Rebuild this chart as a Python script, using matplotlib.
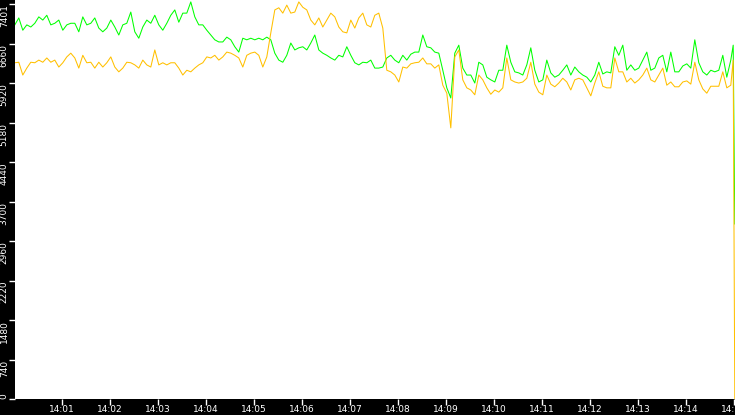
import numpy as np
import matplotlib
matplotlib.use("Agg")
import matplotlib.pyplot as plt
import matplotlib.dates as mdates
from datetime import datetime, timedelta

start = datetime(2024, 1, 1, 14, 0, 0)
# seconds after 14:00:00, one reading every 5 s plus the last drop
seconds = list(range(1, 900, 5)) + [899, 901]
times = [start + timedelta(seconds=s) for s in seconds]

green = [
    7010, 7140, 6910, 7010, 6970, 7040, 7160, 7100, 7190, 7010, 7040, 7100, 6910, 7010, 7040, 7040,
    6880, 7160, 7010, 7040, 7140, 6950, 6880, 6950, 7100, 6970, 6820, 7010, 7040, 7250, 6880,
    6760, 6970, 7100, 7040, 7190, 7010, 6910, 7040, 7190, 7290, 7060, 7230, 7230, 7440, 7160, 7010,
    7010, 6910, 6820, 6730, 6690, 6690, 6780, 6730, 6600, 6500, 6760, 6730, 6760, 6730, 6760,
    6730, 6780, 6730, 6480, 6350, 6310, 6440, 6670, 6540, 6580, 6600, 6540, 6670, 6820, 6540,
    6480, 6440, 6390, 6350, 6440, 6410, 6600, 6440, 6300, 6260, 6310, 6300, 6350, 6200, 6200,
    6220, 6390, 6440, 6350, 6300, 6440, 6350, 6460, 6500, 6500, 6820, 6600, 6580, 6500, 6480,
    6160, 5830, 5640, 6480, 6630, 6200, 6070, 6070, 5920, 6310, 6260, 6030, 5980, 5940, 6160,
    6160, 6630, 6310, 6130, 6110, 6070, 6260, 6580, 6160, 5940, 5980, 6350, 6110, 6030, 6070,
    6160, 6260, 6070, 6220, 6130, 6070, 6030, 5940, 6070, 6310, 6090, 6130, 6110, 6600, 6440,
    6630, 6160, 6260, 6160, 6200, 6350, 6500, 6160, 6200, 6390, 6440, 6130, 6500, 6130, 6130,
    6240, 6280, 6200, 6730, 6300, 6130, 6070, 6160, 6130, 6160, 6440, 6030, 6350,
    6630, 3280,
]

yellow = [
    6300, 6310, 6070, 6200, 6310, 6300, 6350, 6310, 6390, 6310, 6350, 6220, 6300, 6410, 6480, 6390,
    6200, 6440, 6300, 6310, 6200, 6310, 6220, 6300, 6410, 6220, 6130, 6200, 6310, 6300, 6260,
    6200, 6350, 6260, 6220, 6540, 6260, 6300, 6260, 6300, 6300, 6200, 6070, 6160, 6130, 6200, 6260,
    6300, 6410, 6390, 6440, 6350, 6410, 6500, 6480, 6440, 6390, 6220, 6440, 6480, 6500, 6440,
    6220, 6410, 6860, 7290, 7330, 7230, 7380, 7230, 7250, 7440, 7340, 7290, 7100, 7010, 7140,
    6970, 7100, 7230, 7160, 6970, 6880, 6860, 7100, 6950, 7140, 7230, 7010, 6970, 7190, 7230,
    6950, 6160, 6130, 6070, 5940, 6220, 6200, 6280, 6300, 6310, 6390, 6280, 6280, 6200, 6260,
    5880, 5730, 5080, 6410, 6540, 5980, 5830, 5790, 5700, 6070, 5980, 5830, 5710, 5790, 5750,
    5830, 6390, 5980, 5940, 5920, 5940, 6010, 6310, 5900, 5750, 5700, 6070, 5900, 5850, 5920,
    6010, 5940, 5790, 5980, 6010, 5980, 5830, 5680, 5920, 6130, 5860, 5830, 5830, 6390, 6130,
    6130, 5940, 6010, 5920, 5980, 6070, 6200, 5980, 5940, 6070, 6200, 5880, 5940, 5850, 5850,
    5940, 5960, 5900, 6310, 5980, 5810, 5730, 5860, 5860, 5860, 6130, 5830, 5880,
    6350, 0,
]

y_ticks = np.arange(11) * 740.1
y_labels = ["0", "740", "1480", "2220", "2960", "3700", "4440", "5180", "5920", "6660", "7401"]

fig = plt.figure(figsize=(7.35, 4.15), dpi=100, facecolor="black")
ax = fig.add_axes([15 / 735, 16 / 415, 720 / 735, 399 / 415])
ax.set_facecolor("white")

ax.plot(times, green, color="#00ff00", lw=0.75)
ax.plot(times, yellow, color="#ffc000", lw=0.75)

ax.set_xlim(start + timedelta(seconds=1.25), start + timedelta(seconds=901.25))
ax.set_ylim(0, 7476)
ax.xaxis.set_major_locator(mdates.MinuteLocator())
ax.xaxis.set_major_formatter(mdates.DateFormatter("%H:%M"))
ax.set_yticks(y_ticks, y_labels, rotation=90, va="top")

ax.tick_params(colors="white", length=4, width=1, labelsize=6.5, pad=0.5)
labels = ax.get_yticklabels()
labels[0].set_va("bottom")
for s in ax.spines.values():
    s.set_visible(False)

fig.savefig("out.png", dpi=100, facecolor="black")
